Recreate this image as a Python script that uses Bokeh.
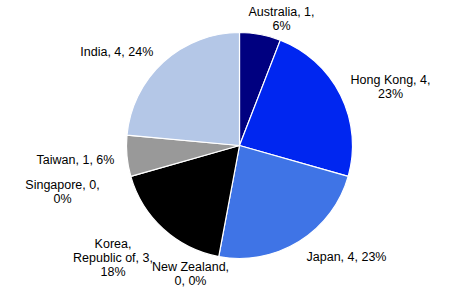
import math
from bokeh.plotting import figure
from bokeh.models import Range1d, ColumnDataSource
from bokeh.core.properties import value
from bokeh.embed import file_html
from bokeh.resources import INLINE

# ---- data ----
countries = ["Australia", "Hong Kong", "Japan", "New Zealand",
             "Korea, Republic of", "Singapore", "Taiwan", "India"]
counts = [1, 4, 4, 0, 3, 0, 1, 4]
percent_labels = [6, 23, 23, 0, 18, 0, 6, 24]
colors = ["#000080", "#0026F0", "#3F74E6", "#FFFFFF",
          "#000000", "#FFFFFF", "#999999", "#B4C7E7"]

# ---- layout (pixels, top-left origin) ----
W, H = 474, 287
cx, cy, R = 239, 145, 113
# label block centres and line breaks
label_pos = [(281, 18), (390, 86), (346, 256), (190, 273.5),
             (112.5, 257), (62, 191), (75, 159.3), (116.3, 51.7)]
label_lines = {
    "Australia": lambda n, v, p: [f"{n}, {v},", f"{p}%"],
    "Hong Kong": lambda n, v, p: [f"{n}, {v},", f"{p}%"],
    "New Zealand": lambda n, v, p: [f"{n},", f"{v}, {p}%"],
    "Korea, Republic of": lambda n, v, p: ["Korea,", f"Republic of, {v},", f"{p}%"],
    "Singapore": lambda n, v, p: [f"{n}, {v},", f"{p}%"],
}
LINE_H = 14

p = figure(width=W, height=H, output_backend="svg", toolbar_location=None,
           x_range=Range1d(0, W), y_range=Range1d(0, H), min_border=0)
p.axis.visible = False
p.grid.visible = False
p.outline_line_color = None
p.background_fill_color = "white"
p.border_fill_color = "white"

total = sum(counts)
cum = 0
starts, ends, cols = [], [], []
for c, v, col in zip(countries, counts, colors):
    a0 = math.pi / 2 - 2 * math.pi * cum / total
    cum += v
    a1 = math.pi / 2 - 2 * math.pi * cum / total
    if v > 0:
        starts.append(a0)
        ends.append(a1)
        cols.append(col)
src = ColumnDataSource(dict(x=[cx] * len(starts), y=[H - cy] * len(starts),
                            start=starts, end=ends, color=cols))
p.wedge(x="x", y="y", radius=R, radius_units="screen", start_angle="start",
        end_angle="end", direction="clock", fill_color="color",
        line_color="white", line_width=1.2, source=src)

tx, ty, tt = [], [], []
for c, v, pc, (lx, ly) in zip(countries, counts, percent_labels, label_pos):
    if c in label_lines:
        lines = label_lines[c](c, v, pc)
    else:
        lines = [f"{c}, {v}, {pc}%"]
    n = len(lines)
    for i, line in enumerate(lines):
        tx.append(lx)
        ty.append(H - (ly + (i - (n - 1) / 2) * LINE_H))
        tt.append(line)
p.text(x=tx, y=ty, text=tt, text_align="center", text_baseline="middle",
       text_font=value("Liberation Sans"), text_font_size="12.5px",
       text_color="#000000")

open("out.html", "w").write(file_html(p, INLINE))
